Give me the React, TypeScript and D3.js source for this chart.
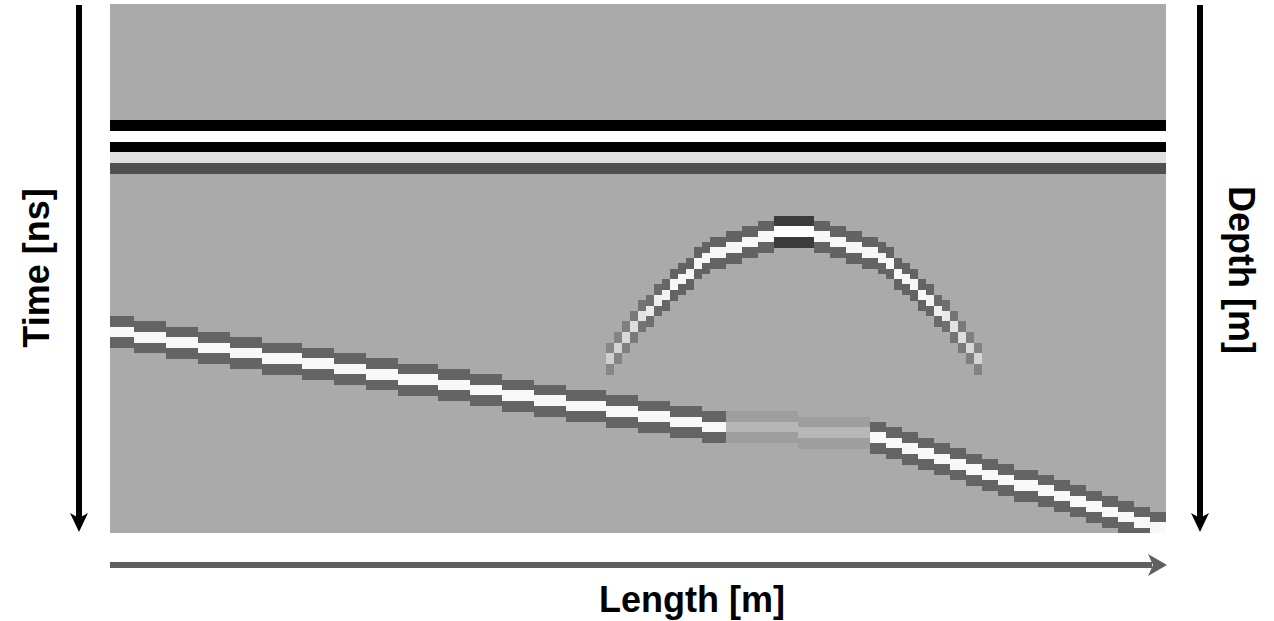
import * as d3 from "d3"

// grid of the radargram: columns (traces) and half-rows (samples)
const nCols = 132
const nRows = 100

// flat reflections at the top (row index -> amplitude)
const flatRows = [22, 23, 24, 25, 26, 27, 28, 29, 30, 31]
const flatAmp = [-1, -1, 1, 1, -1, -1, 0.64, 0.64, -0.53, -0.53]

// dipping reflector: top row for each column
const dipTop = [
  59, 59, 59, 60, 60, 60, 60, 61, 61, 61, 61, 62, 62, 62, 62, 63, 63, 63, 63,
  64, 64, 64, 64, 64, 65, 65, 65, 65, 66, 66, 66, 66, 67, 67, 67, 67, 68, 68,
  68, 68, 68, 69, 69, 69, 69, 70, 70, 70, 70, 71, 71, 71, 71, 72, 72, 72, 72,
  73, 73, 73, 73, 73, 74, 74, 74, 74, 75, 75, 75, 75, 76, 76, 76, 76, 77, 77,
  77, 77, 77, 77, 77, 77, 77, 77, 77, 77, 78, 78, 78, 78, 78, 78, 78, 78, 78,
  79, 79, 80, 80, 81, 81, 82, 82, 83, 83, 84, 84, 85, 85, 86, 86, 87, 87, 88,
  88, 88, 89, 89, 90, 90, 91, 91, 92, 92, 93, 93, 94, 94, 95, 95, 96, 96,
]
const dipBands = [-0.41, -0.41, 0.92, 0.92, -0.41, -0.41]
const attenuated = [77, 94]
const attenuation = 0.17

// diffraction hyperbola
const hypStart = 62
const hypTop = [
  64, 62, 60, 58, 56, 55, 53, 52, 50, 49, 48, 46, 45, 44, 44, 43, 43, 42, 42,
  41, 41, 40, 40, 40, 40, 40, 41, 41, 42, 42, 43, 43, 44, 44, 45, 46, 48, 49,
  50, 52, 53, 55, 56, 58, 60, 62, 64,
]
const hypAmp = [
  0.5, 0.55, 0.6, 0.68, 0.75, 0.82, 0.9, 0.95, 1, 1, 1, 1, 1, 1, 1, 1, 1, 1, 1,
  1, 1, 1.55, 1.55, 1.55, 1.55, 1.55, 1, 1, 1, 1, 1, 1, 1, 1, 1, 1, 1, 1, 1,
  1, 0.95, 0.9, 0.82, 0.75, 0.68, 0.6, 0.55, 0.5,
]
const hypBands = [-0.42, -0.42, 0.9, 0.9, -0.42, -0.42]

const labels = { left: "Time [ns]", right: "Depth [m]", bottom: "Length [m]" }

const App = () => {
  const width = 1274
  const height = 621
  const plot = { left: 110, right: 1166, top: 4, bottom: 533 }

  const x = d3
    .scaleBand<number>()
    .domain(d3.range(nCols))
    .range([plot.left, plot.right])
  const y = d3
    .scaleBand<number>()
    .domain(d3.range(nRows))
    .range([plot.top, plot.bottom])

  const colour = d3
    .scaleLinear<string>()
    .domain([-1, 0, 1])
    .range(["#000000", "#aaaaaa", "#ffffff"])
    .clamp(true)

  // build amplitude matrix
  const grid: number[][] = d3.range(nCols).map(() => d3.range(nRows).map(() => 0))
  d3.range(nCols).forEach((c) => {
    flatRows.forEach((r, i) => (grid[c][r] = flatAmp[i]))
    const f = c >= attenuated[0] && c <= attenuated[1] ? attenuation : 1
    dipBands.forEach((a, i) => {
      const r = dipTop[c] + i
      if (r < nRows) grid[c][r] = a * f
    })
  })
  hypTop.forEach((top, i) => {
    const c = hypStart + i
    hypBands.forEach((a, k) => {
      grid[c][top + k] = a * hypAmp[i]
    })
  })

  const cells: { c: number; r: number; v: number }[] = []
  grid.forEach((col, c) =>
    col.forEach((v, r) => {
      if (v !== 0) cells.push({ c, r, v })
    })
  )

  const font = "'Liberation Sans', Arial, sans-serif"
  const axisY0 = 5
  const axisY1 = 532

  return (
    <svg
      width={width}
      height={height}
      style={{ position: "absolute", left: 0, top: 0, background: "#fff" }}
    >
      <rect
        x={plot.left}
        y={plot.top}
        width={plot.right - plot.left}
        height={plot.bottom - plot.top}
        fill={colour(0)}
      />
      <g shapeRendering="crispEdges">
        {cells.map((d) => (
          <rect
            key={`${d.c}-${d.r}`}
            x={x(d.c)}
            y={y(d.r)}
            width={x.bandwidth() + 0.3}
            height={y.bandwidth() + 0.3}
            fill={colour(d.v)}
          />
        ))}
      </g>

      {/* time axis arrow */}
      <line x1={79} x2={79} y1={axisY0} y2={axisY1 - 14} stroke="#000" strokeWidth={6} />
      <path
        d={`M79,${axisY1} L70,${axisY1 - 19} L79,${axisY1 - 14} L88,${axisY1 - 19} Z`}
        fill="#000"
      />
      {/* depth axis arrow */}
      <line x1={1200} x2={1200} y1={axisY0} y2={axisY1 - 14} stroke="#000" strokeWidth={6} />
      <path
        d={`M1200,${axisY1} L1191,${axisY1 - 19} L1200,${axisY1 - 14} L1209,${axisY1 - 19} Z`}
        fill="#000"
      />
      {/* length axis arrow */}
      <line x1={plot.left} x2={1152} y1={565} y2={565} stroke="#606060" strokeWidth={6} />
      <path d="M1167,565 L1148,554 L1153,565 L1148,576 Z" fill="#606060" />

      <text
        transform="translate(49,268) rotate(-90)"
        textAnchor="middle"
        fontFamily={font}
        fontWeight="bold"
        fontSize={36}
      >
        {labels.left}
      </text>
      <text
        transform="translate(1229,270) rotate(90)"
        textAnchor="middle"
        fontFamily={font}
        fontWeight="bold"
        fontSize={36}
      >
        {labels.right}
      </text>
      <text
        x={692}
        y={612}
        textAnchor="middle"
        fontFamily={font}
        fontWeight="bold"
        fontSize={36}
      >
        {labels.bottom}
      </text>
    </svg>
  )
}

export default App
